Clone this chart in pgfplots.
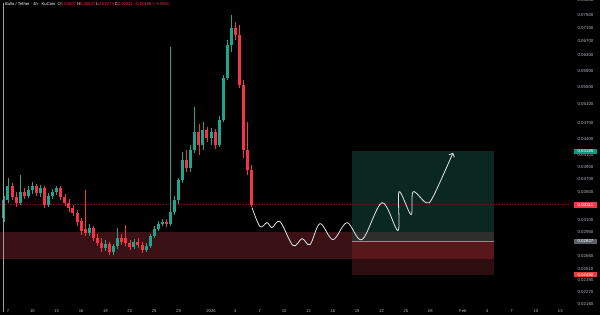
\documentclass[border=0pt]{standalone}
\usepackage{pgfplots}
\pgfplotsset{compat=1.18}
\usepackage{pgfplotstable}
\usepackage{fontspec}
\setmainfont{Liberation Sans}
\usetikzlibrary{arrows.meta}
\definecolor{candup}{HTML}{1FA58E}
\definecolor{canddn}{HTML}{F23645}
\definecolor{ticktxt}{HTML}{B2B5BE}
\definecolor{zone}{HTML}{3A1216}
\definecolor{tpbox}{HTML}{0A2820}
\definecolor{overg}{HTML}{2E2F2C}
\definecolor{overr}{HTML}{5A171B}
\definecolor{slbox}{HTML}{2D0D10}
\definecolor{pline}{HTML}{5E161B}
\definecolor{pathc}{HTML}{E0E3EB}
\definecolor{tpgreen}{HTML}{089981}
\definecolor{entrygrey}{HTML}{5D606B}
\definecolor{entryline}{HTML}{8A8C90}

\pgfplotstableread{
x o h l c
-0.5 0.03131 0.03442 0.03078 0.03384
0 0.03384 0.03719 0.03340 0.03593
0.5 0.03593 0.03640 0.03384 0.03427
1 0.03427 0.03502 0.03284 0.03340
1.5 0.03340 0.03768 0.03312 0.03502
2 0.03502 0.03562 0.03397 0.03442
2.5 0.03442 0.03593 0.03412 0.03532
3 0.03532 0.03656 0.03471 0.03593
3.5 0.03593 0.03624 0.03442 0.03486
4 0.03486 0.03609 0.03427 0.03562
4.5 0.03562 0.03593 0.03269 0.03312
5 0.03312 0.03486 0.03284 0.03442
5.5 0.03442 0.03547 0.03397 0.03502
6 0.03502 0.03593 0.03457 0.03562
6.5 0.03562 0.03593 0.03384 0.03427
7 0.03427 0.03471 0.03298 0.03340
7.5 0.03340 0.03397 0.03213 0.03269
8 0.03269 0.03312 0.03158 0.03199
8.5 0.03199 0.03241 0.03026 0.03078
9 0.03092 0.03131 0.02911 0.02961
9.5 0.02987 0.03532 0.02898 0.02936
10 0.02936 0.03052 0.02898 0.03000
10.5 0.03000 0.03026 0.02837 0.02873
11 0.02873 0.02923 0.02776 0.02812
11.5 0.02812 0.02873 0.02706 0.02752
12 0.02752 0.02849 0.02717 0.02800
12.5 0.02800 0.02824 0.02671 0.02706
13 0.02706 0.02800 0.02660 0.02776
13.5 0.02776 0.03000 0.02740 0.02873
14 0.02873 0.02923 0.02788 0.02824
14.5 0.02873 0.03039 0.02776 0.02812
15 0.02812 0.02849 0.02729 0.02764
15.5 0.02764 0.02861 0.02740 0.02824
16 0.02824 0.02873 0.02752 0.02788
16.5 0.02788 0.02824 0.02694 0.02729
17 0.02729 0.02812 0.02706 0.02776
17.5 0.02776 0.02923 0.02752 0.02898
18 0.02898 0.03026 0.02873 0.02987
18.5 0.02987 0.03092 0.02961 0.03052
19 0.03052 0.03117 0.03026 0.03078
19.5 0.03078 0.03117 0.03013 0.03052
20 0.03052 0.06535 0.03026 0.03213
20.5 0.03213 0.03442 0.03172 0.03384
21 0.03384 0.03719 0.03325 0.03688
21.5 0.03688 0.04160 0.03640 0.04019
22 0.04019 0.04196 0.03817 0.03883
22.5 0.03883 0.04287 0.03817 0.04196
23 0.04196 0.05048 0.04142 0.04534
23.5 0.04534 0.04692 0.04107 0.04287
24 0.04287 0.04733 0.04196 0.04573
24.5 0.04573 0.04632 0.04342 0.04418
25 0.04418 0.04612 0.04287 0.04534
25.5 0.04534 0.04592 0.04213 0.04287
26 0.04287 0.04857 0.04250 0.04774
26.5 0.04774 0.05794 0.04733 0.05719
27 0.05719 0.06735 0.05670 0.06592
27.5 0.06592 0.07500 0.06397 0.07091
28 0.07091 0.07278 0.06735 0.06882
28.5 0.06882 0.07184 0.05478 0.05550
29 0.05550 0.05670 0.04054 0.04196
29.5 0.04196 0.04733 0.03768 0.03850
30 0.03850 0.03934 0.03284 0.03312
}\candles

\begin{document}
\begin{tikzpicture}
\useasboundingbox (0,0) rectangle (600bp,315bp);
\fill[black] (0,0) rectangle (600bp,315bp);
\begin{axis}[
  at={(0bp,9bp)}, anchor=south west,
  scale only axis, width=570bp, height=306bp,
  xmin=-0.985, xmax=69.2,
  ymode=log, ymin=0.021395, ymax=0.08001,
  axis line style={draw=none},
  major tick length=0pt, minor tick length=0pt,
  yminorticks=false,
  clip mode=individual,
  xtick={0,3,6,9,12,15,18,21,25,28,31,34,37,40,43,46,49,52,56,59,62,65,68},
  xticklabels={7,10,13,16,19,22,25,28,2026,4,7,10,13,16,19,22,25,28,Feb,4,7,10,13},
  ytick={0.0216,0.0227,0.0239,0.0251,0.0265,0.0295,0.031,0.035,0.037,0.039,0.041,0.044,0.047,0.051,0.055,0.059,0.063,0.067,0.071,0.075,0.080},
  yticklabels={0.02160,0.02270,0.02390,0.02510,0.02650,0.02950,0.03100,0.03500,0.03700,0.03900,0.04100,0.04400,0.04700,0.05100,0.05500,0.05900,0.06300,0.06700,0.07100,0.07500,0.08000},
  yticklabel pos=right,
  xticklabel style={font=\fontsize{4.2}{5}\selectfont, text=ticktxt, anchor=center, inner sep=0pt, yshift=-5bp},
  yticklabel style={font=\fontsize{4.4}{5}\selectfont, text=ticktxt, anchor=center, inner sep=0pt, xshift=15.5bp},
]
% demand zone
\addplot[fill=zone, draw=none, forget plot] coordinates {(-0.985,0.02948) (42.36,0.02948) (42.36,0.02625) (-0.985,0.02625)} -- cycle;
% long position box
\addplot[fill=tpbox, draw=none, forget plot] coordinates {(42.36,0.04165) (59.85,0.04165) (59.85,0.02948) (42.36,0.02948)} -- cycle;
\addplot[fill=overg, draw=none, forget plot] coordinates {(42.36,0.02948) (59.85,0.02948) (59.85,0.02827) (42.36,0.02827)} -- cycle;
\addplot[fill=overr, draw=none, forget plot] coordinates {(42.36,0.02827) (59.85,0.02827) (59.85,0.02625) (42.36,0.02625)} -- cycle;
\addplot[fill=slbox, draw=none, forget plot] coordinates {(42.36,0.02625) (59.85,0.02625) (59.85,0.02450) (42.36,0.02450)} -- cycle;
\addplot[entryline, line width=0.6bp, forget plot] coordinates {(42.36,0.02827) (59.85,0.02827)};
% current price line
\addplot[pline, line width=0.6bp, dash pattern=on 0.8bp off 0.8bp, forget plot] coordinates {(-0.985,0.03311) (69.2,0.03311)};
% candles
\pgfplotsforeachungrouped \i in {0,1,...,61}{%
  \pgfplotstablegetelem{\i}{x}\of\candles \let\cx\pgfplotsretval
  \pgfplotstablegetelem{\i}{o}\of\candles \let\co\pgfplotsretval
  \pgfplotstablegetelem{\i}{h}\of\candles \let\ch\pgfplotsretval
  \pgfplotstablegetelem{\i}{l}\of\candles \let\cl\pgfplotsretval
  \pgfplotstablegetelem{\i}{c}\of\candles \let\cc\pgfplotsretval
  \ifdim\cc pt<\co pt \def\ccol{canddn}\else\def\ccol{candup}\fi
  \edef\doplot{%
    \noexpand\addplot[\ccol, line width=0.6bp, forget plot] coordinates {(\cx,\cl) (\cx,\ch)};%
    \noexpand\addplot[\ccol, line width=3.0bp, forget plot] coordinates {(\cx,\co) (\cx,\cc)};%
  }\doplot
}
% projected path
\addplot[pathc, line width=0.8bp, smooth, tension=0.55, -{Straight Barb[length=3bp,width=6bp]}, forget plot] coordinates {
(30.05,0.03269) (31.03,0.03013) (31.90,0.03065) (32.51,0.03000) (33.50,0.03078)
(35.10,0.02776) (36.21,0.02861) (37.19,0.02788) (38.42,0.03052) (40.02,0.02849)
(41.75,0.03065) (43.60,0.02849) (46.06,0.03340) (48.03,0.02961) (48.15,0.03502)
(49.63,0.03172) (49.88,0.03502) (51.48,0.03340) (52.34,0.03427) (54.80,0.04142)};
\coordinate (tp) at (axis cs:69.2,0.04165);
\coordinate (cp) at (axis cs:69.2,0.03311);
\coordinate (en) at (axis cs:69.2,0.02827);
\coordinate (sl) at (axis cs:69.2,0.02450);
\end{axis}
\draw[gray!75, line width=0.7bp] (3.5bp,3bp) -- (3.5bp,312bp);
\tikzset{plabel/.style={text=white, font=\fontsize{4.4}{5}\selectfont, inner xsep=1bp, inner ysep=1.3bp, minimum width=23bp, anchor=center}}
\node[plabel, fill=tpgreen] at ([xshift=15.5bp]tp) {0.04165};
\node[plabel, fill=canddn] at ([xshift=15.5bp]cp) {0.03311};
\node[plabel, fill=entrygrey] at ([xshift=15.5bp]en) {0.02827};
\node[plabel, fill=canddn] at ([xshift=15.5bp]sl) {0.02450};
\node[anchor=west, inner sep=0pt, font=\fontsize{4.2}{5}\selectfont, text=white] at (5bp,310.5bp)
  {Bulla / Tether · 4h · KuCoin\enspace O\textcolor{canddn}{0.03507}\ H\textcolor{canddn}{0.03547}\ L\textcolor{canddn}{0.03274}\ C\textcolor{canddn}{0.03311}\ \textcolor{canddn}{−0.00196 (−5.59\%)}};
\end{tikzpicture}
\end{document}
